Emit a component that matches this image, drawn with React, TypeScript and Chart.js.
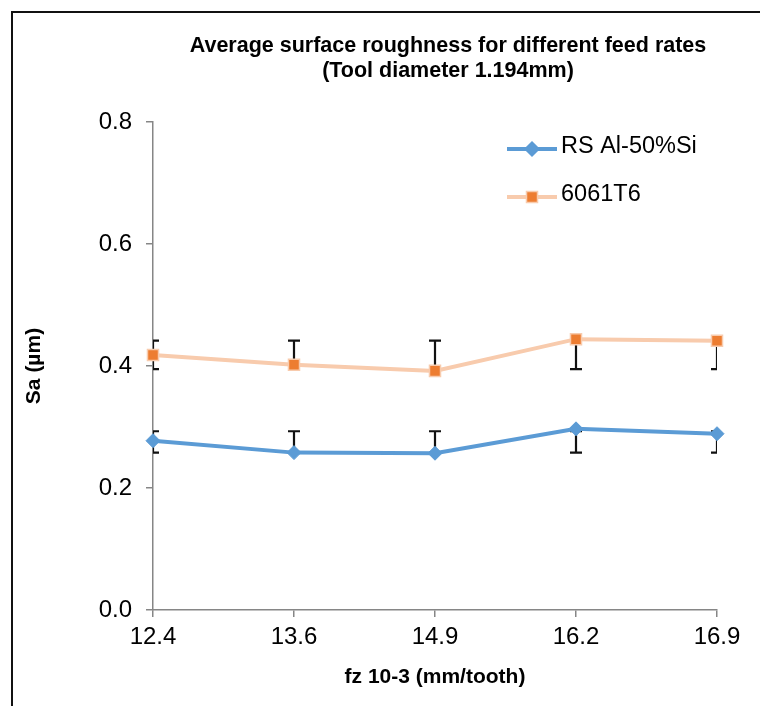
import React, { useEffect, useRef } from "react";
import { Chart, registerables } from "chart.js";

Chart.register(...registerables);

const categories = ["12.4", "13.6", "14.9", "16.2", "16.9"];
const seriesNames = ["RS Al-50%Si", "6061T6"];
const alSiValues = [0.2775, 0.258, 0.257, 0.297, 0.289];
const t6Values = [0.418, 0.402, 0.392, 0.444, 0.4415];
const alSiErrLow = [0.258, 0.258, 0.258, 0.258, 0.258];
const alSiErrHigh = [0.293, 0.293, 0.293, 0.293, 0.293];
const t6ErrLow = [0.395, 0.395, 0.395, 0.395, 0.395];
const t6ErrHigh = [0.4415, 0.4415, 0.4415, 0.4415, 0.4415];
const titleLines = ["Average surface roughness for different feed rates", "(Tool diameter 1.194mm)"];
const xTitle = "fz 10-3 (mm/tooth)";
const yTitle = "Sa (\u00b5m)";

const FONT = "'Liberation Sans', Arial, sans-serif";
const BLUE = "#5B9BD5";
const ORANGE = "#ED7D31";
const PEACH = "#F8CBAD";
const AXIS = "#868686";

export default function App() {
  const ref = useRef<HTMLCanvasElement>(null);

  useEffect(() => {
    if (!ref.current) return;
    const errors = [
      { low: alSiErrLow, high: alSiErrHigh },
      { low: t6ErrLow, high: t6ErrHigh },
    ];

    const errorBars = {
      id: "errorBars",
      beforeDatasetsDraw(chart: any) {
        const { ctx, chartArea, scales } = chart;
        ctx.save();
        ctx.beginPath();
        ctx.rect(chartArea.left, chartArea.top, chartArea.right - chartArea.left, chartArea.bottom - chartArea.top);
        ctx.clip();
        ctx.strokeStyle = "#111";
        ctx.lineWidth = 2.2;
        errors.forEach((e) => {
          categories.forEach((_, i) => {
            const x = scales.x.getPixelForValue(i);
            const yl = scales.y.getPixelForValue(e.low[i]);
            const yh = scales.y.getPixelForValue(e.high[i]);
            ctx.beginPath();
            ctx.moveTo(x, yl);
            ctx.lineTo(x, yh);
            ctx.moveTo(x - 6, yl);
            ctx.lineTo(x + 6, yl);
            ctx.moveTo(x - 6, yh);
            ctx.lineTo(x + 6, yh);
            ctx.stroke();
          });
        });
        ctx.restore();
      },
    };

    const decor = {
      id: "decor",
      afterDraw(chart: any) {
        const { ctx } = chart;
        ctx.save();
        // frame
        ctx.fillStyle = "#111";
        ctx.fillRect(11, 11, 2, 706);
        ctx.fillRect(11, 11, 760, 2);
        // title
        ctx.fillStyle = "#000";
        ctx.font = `bold 21.5px ${FONT}`;
        ctx.textAlign = "center";
        ctx.textBaseline = "alphabetic";
        ctx.fillText(titleLines[0], 448, 52);
        ctx.fillText(titleLines[1], 448, 77);
        // legend
        const items = [
          { name: seriesNames[0], color: BLUE, border: BLUE, style: "rectRot", y: 149 },
          { name: seriesNames[1], color: ORANGE, border: PEACH, style: "rect", y: 197 },
        ];
        items.forEach((it, k) => {
          ctx.strokeStyle = k === 0 ? BLUE : PEACH;
          ctx.lineWidth = 4;
          ctx.beginPath();
          ctx.moveTo(507, it.y);
          ctx.lineTo(557, it.y);
          ctx.stroke();
          ctx.fillStyle = it.color;
          ctx.strokeStyle = it.border;
          ctx.lineWidth = 1.5;
          ctx.beginPath();
          if (it.style === "rectRot") {
            ctx.moveTo(532, it.y - 7);
            ctx.lineTo(539, it.y);
            ctx.lineTo(532, it.y + 7);
            ctx.lineTo(525, it.y);
            ctx.closePath();
          } else {
            ctx.rect(526.5, it.y - 5.5, 11, 11);
          }
          ctx.fill();
          ctx.stroke();
          ctx.fillStyle = "#000";
          ctx.font = `23.5px ${FONT}`;
          ctx.textAlign = "left";
          ctx.textBaseline = "middle";
          ctx.fillText(it.name, 561, it.y - 2);
        });
        ctx.restore();
      },
    };

    const chart = new Chart(ref.current, {
      type: "line",
      data: {
        labels: categories,
        datasets: [
          {
            label: seriesNames[0],
            data: alSiValues,
            borderColor: BLUE,
            backgroundColor: BLUE,
            borderWidth: 4,
            pointStyle: "rectRot",
            pointRadius: 7,
            pointBorderWidth: 1,
            pointBackgroundColor: BLUE,
            pointBorderColor: BLUE,
            tension: 0,
          },
          {
            label: seriesNames[1],
            data: t6Values,
            borderColor: PEACH,
            backgroundColor: ORANGE,
            borderWidth: 4,
            pointStyle: "rect",
            pointRadius: 7.8,
            pointBorderWidth: 1.5,
            pointBackgroundColor: ORANGE,
            pointBorderColor: PEACH,
            tension: 0,
          },
        ],
      },
      plugins: [errorBars, decor],
      options: {
        responsive: false,
        animation: false,
        layout: { padding: { top: 122, right: 43, bottom: 0, left: 0 } },
        plugins: {
          legend: { display: false },
          title: { display: false },
          tooltip: { enabled: false },
        },
        scales: {
          x: {
            type: "category",
            offset: false,
            grid: { display: true, drawOnChartArea: false, drawTicks: true, tickLength: 7, color: AXIS, lineWidth: 1.5 },
            border: { display: true, color: AXIS, width: 1.5 },
            ticks: { color: "#000", font: { family: FONT, size: 24 }, padding: 6, maxRotation: 0 },
            title: { display: true, text: xTitle, color: "#000", font: { family: FONT, size: 21, weight: "bold" }, padding: { top: 0, bottom: 16 } },
            afterFit(scale: any) {
              scale.height = 96;
            },
          },
          y: {
            min: 0,
            max: 0.8,
            ticks: { stepSize: 0.2, color: "#000", font: { family: FONT, size: 24 }, padding: 14, callback: (v: any) => Number(v).toFixed(1) },
            grid: { display: true, drawOnChartArea: false, drawTicks: true, tickLength: 7, color: AXIS, lineWidth: 1.5 },
            border: { display: true, color: AXIS, width: 1.5 },
            title: { display: true, text: yTitle, color: "#000", font: { family: FONT, size: 21, weight: "bold" }, padding: { top: 22, bottom: 0 } },
            afterFit(scale: any) {
              scale.width = 153;
            },
          },
        },
      },
    });
    return () => chart.destroy();
  }, []);

  return (
    <div style={{ position: "fixed", left: 0, top: 0, width: 760, height: 706, background: "#fff" }}>
      <canvas ref={ref} width={760} height={706} style={{ display: "block" }} />
    </div>
  );
}
